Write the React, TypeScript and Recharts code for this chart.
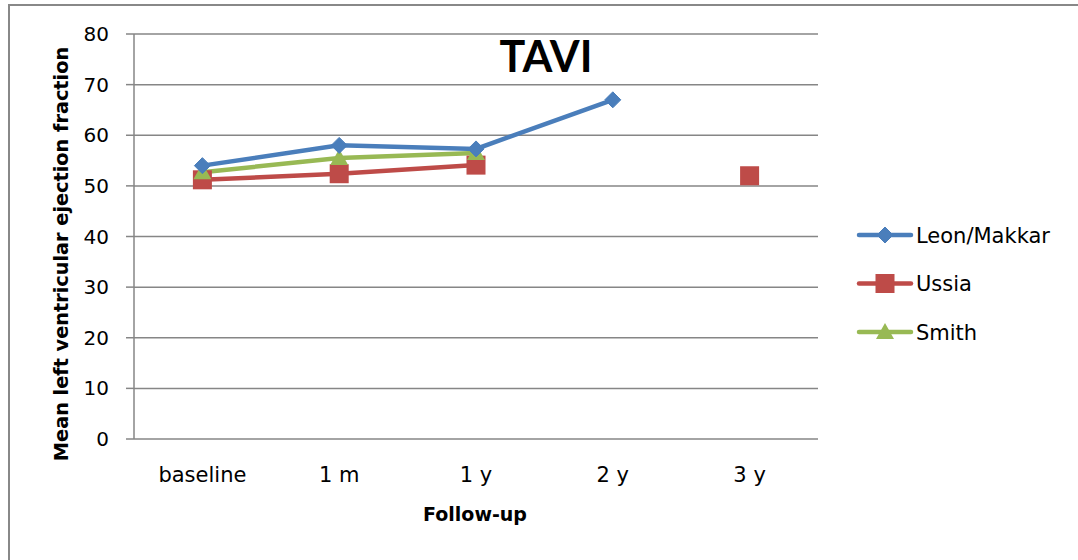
import React from 'react';
import { LineChart, Line, XAxis, YAxis, CartesianGrid, Customized } from 'recharts';

// Follow-up points and mean LVEF (%) per study
const followUp = ['baseline', '1 m', '1 y', '2 y', '3 y'];
const leonMakkar = [54, 58, 57.3, 67, null];
const ussia = [51.2, 52.4, 54.1, null, 52];
const smith = [52.7, 55.5, 56.5, null, null];

const yTicks = [0, 10, 20, 30, 40, 50, 60, 70, 80];
const bandEdges = [-0.5, 0.5, 1.5, 2.5, 3.5, 4.5];
const labelTicks = [0, 1, 2, 3, 4];

const colors = {
  leon: '#4A7EBB',
  ussia: '#BE4B48',
  smith: '#98B954',
  grid: '#868686',
  text: '#000',
};

const font = '"DejaVu Sans", sans-serif';
const titleFont = 'Lato, sans-serif';

const data = followUp.map((name, i) => ({
  x: i,
  name,
  leon: leonMakkar[i],
  ussia: ussia[i],
  smith: smith[i],
}));

const Diamond = (props: any) => {
  const { cx, cy, value } = props;
  if (value == null || cx == null || cy == null) return null;
  const r = 8;
  return (
    <path
      d={`M${cx},${cy - r}L${cx + r},${cy}L${cx},${cy + r}L${cx - r},${cy}Z`}
      fill={colors.leon}
      stroke={colors.leon}
      strokeWidth={1}
    />
  );
};

const Square = (props: any) => {
  const { cx, cy, value } = props;
  if (value == null || cx == null || cy == null) return null;
  const s = 9.5;
  return <rect x={cx - s} y={cy - s} width={s * 2} height={s * 2} fill={colors.ussia} />;
};

const Triangle = (props: any) => {
  const { cx, cy, value } = props;
  if (value == null || cx == null || cy == null) return null;
  return (
    <path
      d={`M${cx},${cy - 9}L${cx + 9},${cy + 7}L${cx - 9},${cy + 7}Z`}
      fill={colors.smith}
    />
  );
};

const legendItems = [
  { name: 'Leon/Makkar', color: colors.leon, Marker: Diamond },
  { name: 'Ussia', color: colors.ussia, Marker: Square },
  { name: 'Smith', color: colors.smith, Marker: Triangle },
];

// Title, axis titles and the side legend
const Decorations = () => (
  <g fontFamily={font} fill={colors.text}>
    <text x={546} y={72} textAnchor="middle" fontSize={43} fontWeight={700} fontFamily={titleFont}>
      TAVI
    </text>
    <text
      x={0}
      y={0}
      transform="translate(68,254) rotate(-90)"
      textAnchor="middle"
      fontSize={19.3}
      fontWeight={700}
    >
      Mean left ventricular ejection fraction
    </text>
    <text x={475} y={521} textAnchor="middle" fontSize={19} fontWeight={700}>
      Follow-up
    </text>
    {legendItems.map((item, i) => {
      const y = 235 + i * 48.5;
      const M = item.Marker;
      return (
        <g key={item.name}>
          <line x1={859} x2={911} y1={y} y2={y} stroke={item.color} strokeWidth={4.5} strokeLinecap="round" />
          <M cx={885} cy={y} value={1} />
          <text x={916} y={y + 7.5} fontSize={21}>
            {item.name}
          </text>
        </g>
      );
    })}
  </g>
);

export default function App() {
  return (
    <div style={{ position: 'absolute', left: 0, top: 0, width: 1078, height: 560, overflow: 'hidden', background: '#fff' }}>
      <div
        style={{
          position: 'absolute',
          left: 8,
          top: 4,
          width: 1100,
          height: 600,
          borderTop: '2px solid #888',
          borderLeft: '2px solid #888',
        }}
      />
      <LineChart
        width={1078}
        height={560}
        data={data}
        margin={{ top: 34, right: 260, bottom: 81, left: 74 }}
        style={{ position: 'absolute', left: 0, top: 0 }}
      >
        <CartesianGrid vertical={false} stroke={colors.grid} strokeWidth={1.5} />
        <XAxis
          dataKey="x"
          type="number"
          domain={[-0.5, 4.5]}
          ticks={bandEdges}
          tick={false}
          height={0}
          tickSize={6}
          axisLine={{ stroke: colors.grid, strokeWidth: 1.5 }}
          tickLine={{ stroke: colors.grid, strokeWidth: 1.5 }}
        />
        <XAxis
          xAxisId="labels"
          dataKey="x"
          type="number"
          domain={[-0.5, 4.5]}
          ticks={labelTicks}
          tickFormatter={(v: number) => followUp[v]}
          height={40}
          tickSize={0}
          tickMargin={28}
          axisLine={false}
          tickLine={false}
          tick={{ fill: colors.text, fontSize: 21, fontFamily: font }}
        />
        <YAxis
          domain={[0, 80]}
          ticks={yTicks}
          width={60}
          tickSize={8}
          tickMargin={17}
          interval={0}
          axisLine={{ stroke: colors.grid, strokeWidth: 1.5 }}
          tickLine={{ stroke: colors.grid, strokeWidth: 1.5 }}
          tick={{ fill: colors.text, fontSize: 20, fontFamily: font }}
        />
        <Line
          dataKey="ussia"
          stroke={colors.ussia}
          strokeWidth={4.5}
          dot={<Square />}
          activeDot={false}
          isAnimationActive={false}
        />
        <Line
          dataKey="smith"
          stroke={colors.smith}
          strokeWidth={4.5}
          dot={<Triangle />}
          activeDot={false}
          isAnimationActive={false}
        />
        <Line
          dataKey="leon"
          stroke={colors.leon}
          strokeWidth={4.5}
          dot={<Diamond />}
          activeDot={false}
          isAnimationActive={false}
        />
        <Customized component={Decorations} />
      </LineChart>
    </div>
  );
}
